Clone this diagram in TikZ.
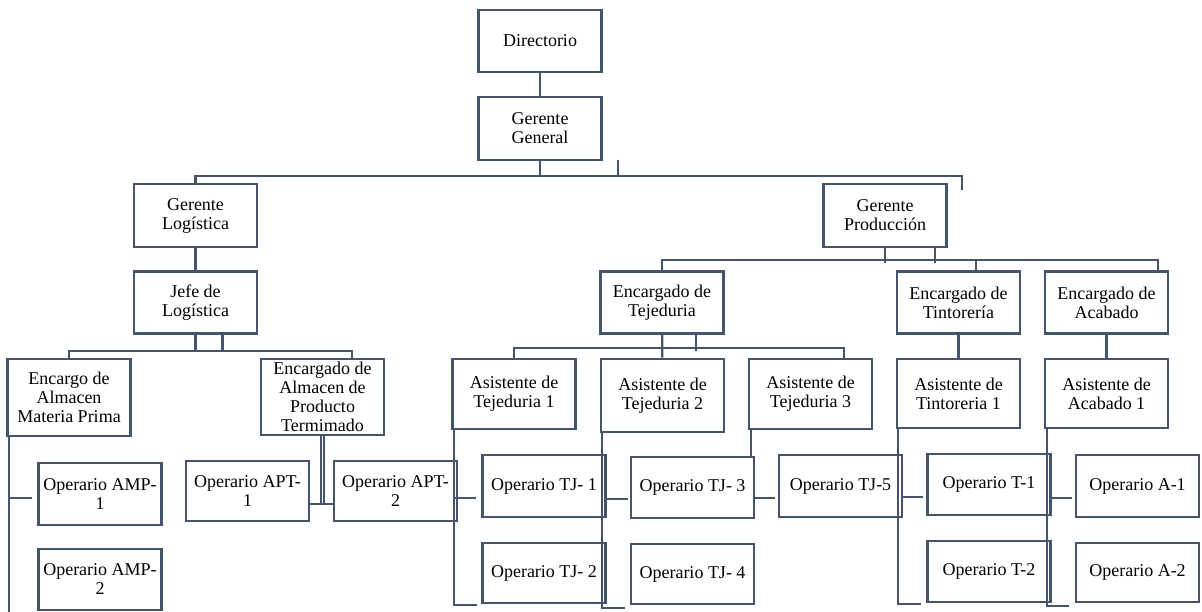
\documentclass[tikz,border=0pt]{standalone}
\usepackage{fontspec}
\setmainfont{Liberation Serif}
\usepackage{tikz}
\usetikzlibrary{calc}
\usepackage{xcolor}
\definecolor{orgline}{RGB}{68,84,106}
\tikzstyle{box} = [draw=orgline, line width=2.6pt, minimum width=123pt, minimum height=62pt, inner sep=0pt, align=center, font=\fontsize{18}{19}\selectfont]
\tikzstyle{link} = [draw=orgline, line width=2.2pt]

\begin{document}
\begin{tikzpicture}[x=1pt, y=-1pt]
\useasboundingbox (0,0) rectangle (1202,612);
% Direccion
\node[box] (dir) at (540,41) {Directorio};
\node[box, minimum height=63pt] (gg) at (540,128.5) {Gerente\\General};
\node[box, minimum height=63pt] (gl) at (195.5,215.5) {Gerente\\Logística};
\node[box, minimum height=63pt] (gp) at (885,215.5) {Gerente\\Producción};

% Logistica
\node[box] (jl) at (195.5,302.5) {Jefe de\\Logística};
\node[box, minimum height=77pt] (eamp) at (69,397.5) {Encargo de\\Almacen\\Materia Prima};
\node[box, minimum height=76pt] (eapt) at (322.5,397) {Encargado de\\Almacen de\\Producto\\Termimado};
\node[box] (amp1) at (100,494) {Operario AMP-\\1};
\node[box, minimum height=61pt] (amp2) at (100,579.5) {Operario AMP-\\2};
\node[box, minimum height=60pt] (apt1) at (247.5,491) {Operario APT-\\1};
\node[box, minimum height=60pt] (apt2) at (395.5,491) {Operario APT-\\2};

% Produccion
\node[box] (et) at (662,302.5) {Encargado de\\Tejeduria};
\node[box] (eti) at (958.5,302.5) {Encargado de\\Tintorería};
\node[box] (eac) at (1106.5,302.5) {Encargado de\\Acabado};
\node[box, minimum height=70pt] (at1) at (514,394) {Asistente de\\Tejeduria 1};
\node[box, minimum height=73pt] (at2) at (662.5,395.5) {Asistente de\\Tejeduria 2};
\node[box, minimum height=70pt] (at3) at (810.5,394) {Asistente de\\Tejeduria 3};
\node[box, minimum height=69pt] (ati) at (958.5,393.5) {Asistente de\\Tintoreria 1};
\node[box, minimum height=69pt] (aac) at (1106.5,393.5) {Asistente de\\Acabado 1};
\node[box] (tj1) at (544,486) {Operario TJ- 1};
\node[box, minimum height=60pt] (tj2) at (544,573) {Operario TJ- 2};
\node[box, minimum height=61pt] (tj3) at (692.5,487.5) {Operario TJ- 3};
\node[box, minimum height=60pt] (tj4) at (692.5,574) {Operario TJ- 4};
\node[box] (tj5) at (840.5,486) {Operario TJ-5};
\node[box, minimum height=61pt] (t1) at (989,484.5) {Operario T-1};
\node[box, minimum height=61pt] (t2) at (989,571.5) {Operario T-2};
\node[box] (a1) at (1137.5,486) {Operario A-1};
\node[box, minimum height=59pt] (a2) at (1137.5,572.5) {Operario A-2};

% Lineas superiores
\draw[link] (dir) -- (gg);
\draw[link] (gg.south) -- ++(0,15) coordinate (bus1);
\coordinate (stubG) at (618,160);
\coordinate (stubP) at (962,190);
\draw[link] (stubG) -- (stubG |- bus1);
\draw[link] (gl.north) |- (stubP |- bus1) -- (stubP);

% Lineas logistica
\draw[link] (gl) -- (jl);
\draw[link] (jl.south) -- ++(0,16) coordinate (bus2);
\draw[link] ($(jl.south)+(27,0)$) -- ++(0,16);
\draw[link] (eamp.north) |- (bus2) -| ($(eapt.north east)+(-33,0)$);
\draw[link] ($(eamp.south west)+(3,0)$) -- ++(0,176);
\draw[link] ($(amp1.west)+(-28,4)$) -- ++(23,0);
\draw[link, line width=2pt, double=white, double distance=1pt] (eapt.south) -- ++(0,69);
\draw[link] ($(apt1.east)+(0,13)$) -- ($(apt2.west)+(0,13)$);

% Lineas produccion
\draw[link] (gp.south) -- ++(0,15) coordinate (bus3);
\draw[link] ($(gp.south)+(50,0)$) -- ++(0,15);
\draw[link] (et.north) |- ($(eac.north east)+(-11,-10)$) -- ++(0,10);
\draw[link] ($(eti.north)+(17.5,0)$) -- ++(0,-10);
\draw[link] (eti) -- (ati);
\draw[link] (eac) -- (aac);

% Tejeduria
\draw[link] (et) -- (at2);
\draw[link] ($(et.south)+(34,0)$) -- ++(0,16);
\draw[link] (at1.north) |- ($(at3.north east)+(-29,-10)$) -- ++(0,10);

% Operarios
\draw[link] ($(at1.south west)+(3,0)$) -- ++(0,175) -- ++(23,0);
\draw[link] ($(tj1.west)+(-26,12)$) -- ++(21,0);
\draw[link] ($(at2.south west)+(2,0)$) -- ++(0,175) -- ++(23,0);
\draw[link] ($(tj1.east)+(0,13)$) -- ++(21,0);
\draw[link] ($(at3.south west)+(3,0)$) -- ++(0,28);
\draw[link] ($(tj3.east)+(0,10.5)$) -- ++(20,0);
\draw[link] ($(ati.south west)+(2,0)$) -- ++(0,175) -- ++(23,0);
\draw[link] ($(tj5.east)+(0,11)$) -- ++(20,0);
\draw[link] ($(aac.south west)+(3,0)$) -- ++(0,177) -- ++(22,0);
\draw[link] ($(t1.east)+(0,13.5)$) -- ++(20,0);
\end{tikzpicture}
\end{document}
